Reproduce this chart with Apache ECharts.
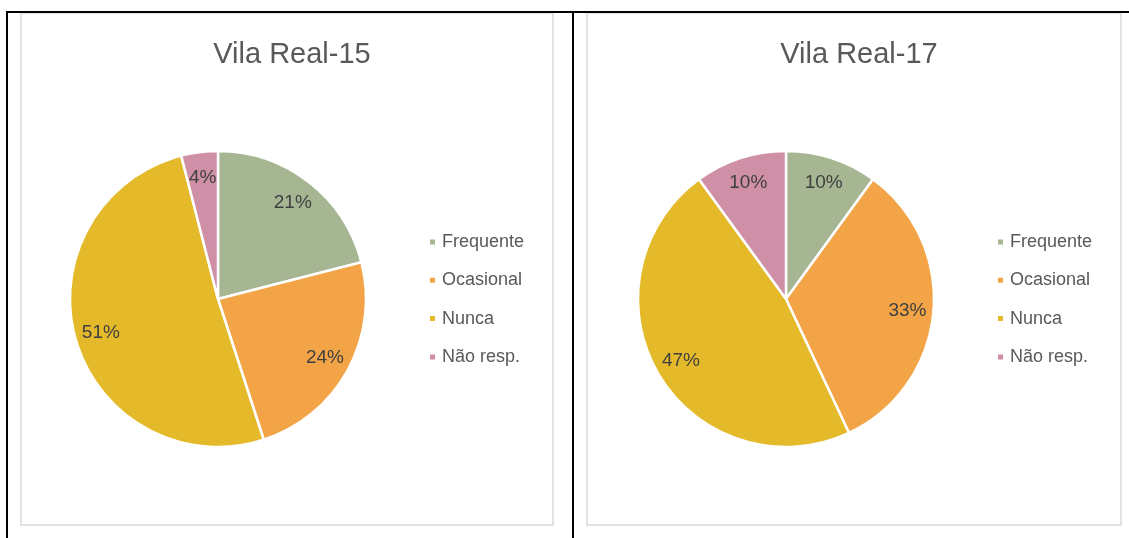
<!DOCTYPE html>
<html>
<head>
<meta charset="utf-8">
<title>Vila Real</title>
<script src="https://cdn.jsdelivr.net/npm/echarts@6/dist/echarts.min.js"></script>
<style>
  html, body { margin: 0; padding: 0; background: #fff; }
  #main { width: 1129px; height: 538px; }
</style>
</head>
<body>
<div id="main"></div>
<script>
// categorias e valores (%)
const categorias = ['Frequente', 'Ocasional', 'Nunca', 'Não resp.'];
const valores15 = [21, 24, 51, 4];
const valores17 = [10, 33, 47, 10];
const titulos = ['Vila Real-15', 'Vila Real-17'];
const cores = ['#A6B592', '#F2A447', '#E4BA2A', '#CF8FA6'];

const chart = echarts.init(document.getElementById('main'), null, { renderer: 'canvas' });

const textCor = '#595959';
const fonte = 'Liberation Sans, Arial, sans-serif';

function toData(vals) {
  return categorias.map((c, i) => ({ name: c, value: vals[i] }));
}

// pizza principal (sem rótulo) + anel transparente só para posicionar os rótulos
function pieSeries(vals, cx) {
  return [
    {
      type: 'pie',
      center: [cx, 299],
      radius: [0, 148],
      startAngle: 90,
      clockwise: true,
      label: { show: false },
      labelLine: { show: false },
      itemStyle: { borderColor: '#fff', borderWidth: 2.5 },
      emphasis: { scale: false },
      data: toData(vals)
    },
    {
      type: 'pie',
      center: [cx, 299],
      radius: [90, 148],
      startAngle: 90,
      clockwise: true,
      silent: true,
      itemStyle: { color: 'transparent' },
      label: {
        show: true,
        position: 'inside',
        formatter: '{c}%',
        color: '#404040',
        fontSize: 19,
        fontFamily: fonte
      },
      labelLine: { show: false },
      data: toData(vals)
    }
  ];
}

function legenda(left) {
  return {
    orient: 'vertical',
    left: left,
    top: 233,
    padding: 0,
    icon: 'rect',
    itemWidth: 7,
    itemHeight: 7,
    itemGap: 20.3,
    selectedMode: false,
    textStyle: { color: textCor, fontSize: 18, lineHeight: 18, fontFamily: fonte, padding: [0, 0, 0, 1] },
    data: categorias
  };
}

chart.setOption({
  color: cores,
  animation: false,
  title: [
    { text: titulos[0], left: 287, top: 35, textAlign: 'center',
      textStyle: { color: textCor, fontSize: 29, fontWeight: 'normal', fontFamily: fonte } },
    { text: titulos[1], left: 854, top: 35, textAlign: 'center',
      textStyle: { color: textCor, fontSize: 29, fontWeight: 'normal', fontFamily: fonte } }
  ],
  legend: [legenda(428), legenda(996)],
  // molduras: linhas pretas da tabela e caixas cinza dos gráficos
  graphic: [
    { type: 'rect', shape: { x: 21, y: 13, width: 532, height: 512 }, style: { fill: 'none', stroke: '#d9d9d9', lineWidth: 1.5 } },
    { type: 'rect', shape: { x: 587, y: 13, width: 534, height: 512 }, style: { fill: 'none', stroke: '#d9d9d9', lineWidth: 1.5 } },
    { type: 'line', shape: { x1: 6, y1: 12, x2: 1129, y2: 12 }, style: { stroke: '#000', lineWidth: 2 } },
    { type: 'line', shape: { x1: 7, y1: 11, x2: 7, y2: 538 }, style: { stroke: '#000', lineWidth: 2 } },
    { type: 'line', shape: { x1: 573, y1: 11, x2: 573, y2: 538 }, style: { stroke: '#000', lineWidth: 2 } }
  ],
  series: [...pieSeries(valores15, 218), ...pieSeries(valores17, 786)]
});
</script>
</body>
</html>
